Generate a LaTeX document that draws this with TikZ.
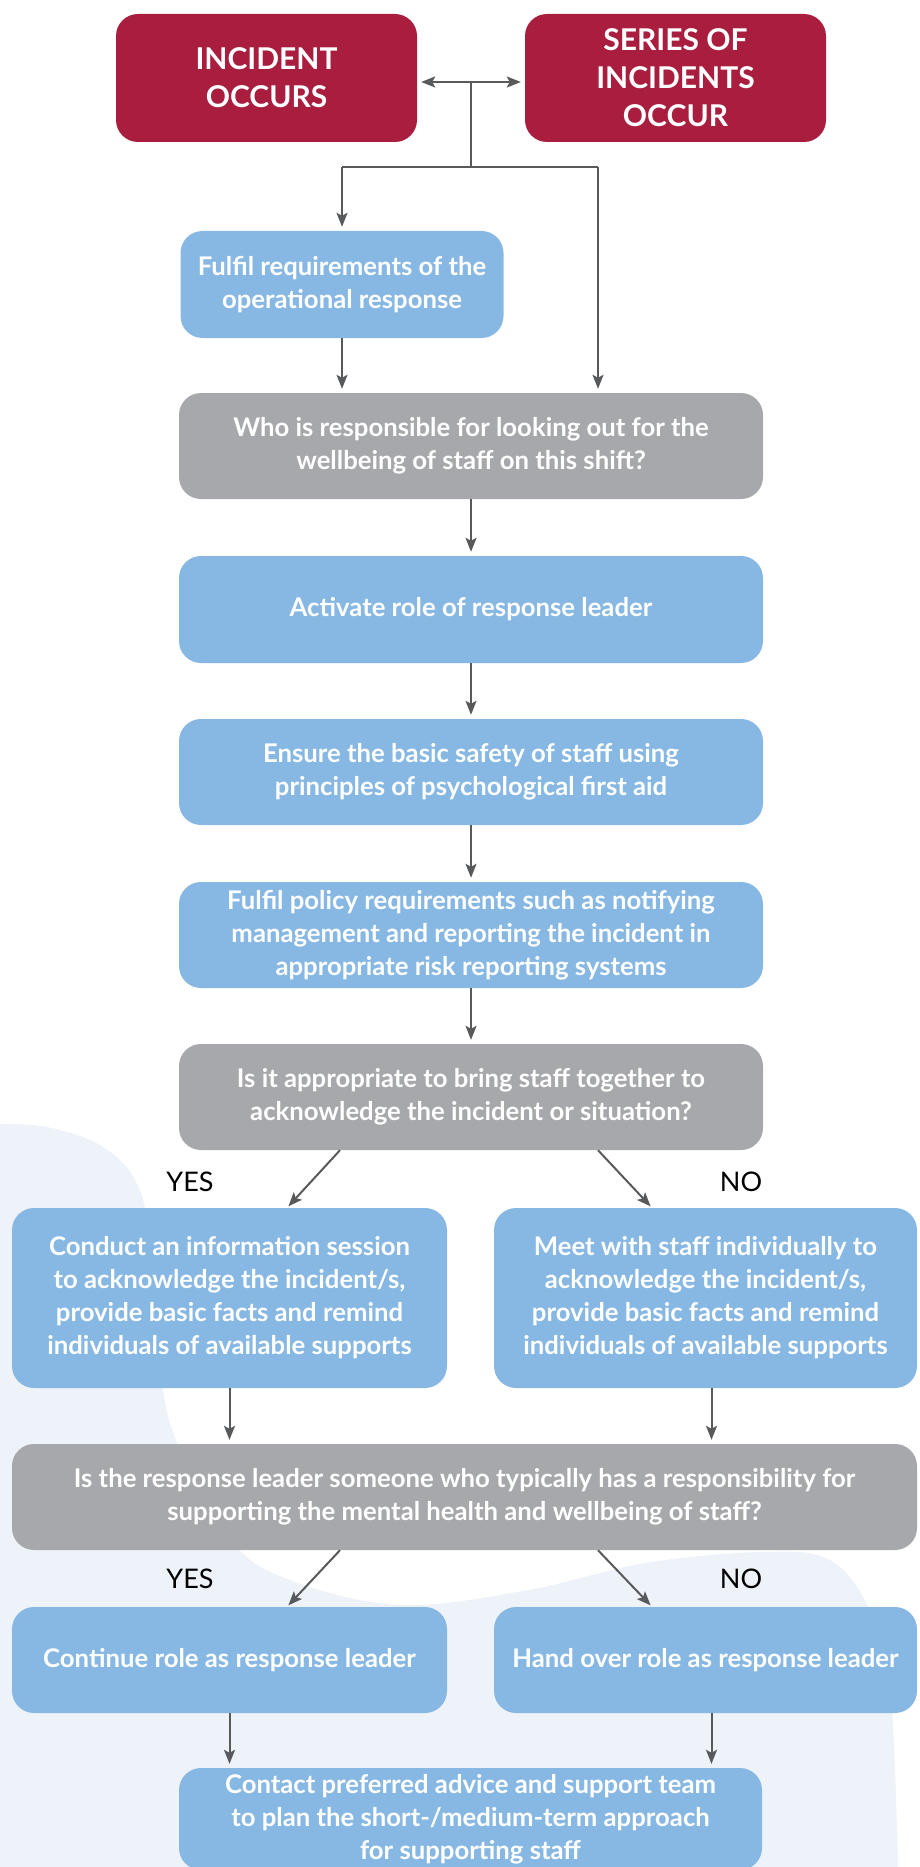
\documentclass[tikz,border=0pt]{standalone}
\usepackage{fontspec}
\setmainfont{Lato}
\usetikzlibrary{arrows.meta}
\definecolor{cred}{HTML}{A91D3F}
\definecolor{cblue}{HTML}{87B8E3}
\definecolor{cgrey}{HTML}{A7A8AB}
\definecolor{carrow}{HTML}{58595B}
\definecolor{cbg}{HTML}{EEF3FA}
\tikzset{
  box/.style={rounded corners=22pt, minimum height=106pt, text=white, align=center,
    font=\bfseries\fontsize{25.7}{33}\selectfont, inner sep=0pt},
  bluebox/.style={box, fill=cblue},
  greybox/.style={box, fill=cgrey},
  redbox/.style={box, fill=cred, minimum width=301pt, minimum height=128pt,
    font=\bfseries\fontsize{30}{38}\selectfont},
  arr/.style={draw=carrow, line width=2pt, -{Stealth[length=14pt,width=11pt,inset=3pt]}},
  dblarr/.style={draw=carrow, line width=2pt, {Stealth[length=14pt,width=11pt,inset=3pt]}-{Stealth[length=14pt,width=11pt,inset=3pt]}},
  ln/.style={draw=carrow, line width=2pt},
  lab/.style={text=black, font=\fontsize{27}{32}\selectfont, inner sep=0pt}
}
\begin{document}
\begin{tikzpicture}[x=1pt,y=-1pt]
\useasboundingbox (0,0) rectangle (919,1867);
\clip (0,0) rectangle (919,1867);
% background blob
\fill[cbg] plot[smooth, tension=0.6] coordinates {(0,1124) (47,1127) (100,1145) (135,1180) (150,1240) (163,1390) (185,1460) (233,1543) (290,1580) (400,1605) (528,1590) (645,1563) (762,1552) (830,1560) (870,1610) (890,1680) (898,1867)} -- (0,1867) -- cycle;

% nodes
\node[redbox] (incident) at (266.5,78) {INCIDENT\\OCCURS};
\node[redbox] (series) at (675.5,78) {SERIES OF\\INCIDENTS\\OCCUR};
\node[bluebox, minimum width=323pt, minimum height=107pt] (fulfil) at (342,284.5) {Fulfil requirements of the\\operational response};
\node[greybox, minimum width=584pt] (who) at (471,446) {Who is responsible for looking out for the\\wellbeing of staff on this shift?};
\node[bluebox, minimum width=584pt, minimum height=107pt] (activate) at (471,609.5) {Activate role of response leader};
\node[bluebox, minimum width=584pt] (ensure) at (471,772) {Ensure the basic safety of staff using\\principles of psychological first aid};
\node[bluebox, minimum width=584pt] (policy) at (471,935) {Fulfil policy requirements such as notifying\\management and reporting the incident in\\appropriate risk reporting systems};
\node[greybox, minimum width=584pt] (approp) at (471,1097) {Is it appropriate to bring staff together to\\acknowledge the incident or situation?};
\node[bluebox, minimum width=435pt, minimum height=180pt] (conduct) at (229.5,1298) {Conduct an information session\\to acknowledge the incident/s,\\provide basic facts and remind\\individuals of available supports};
\node[bluebox, minimum width=423pt, minimum height=180pt] (meet) at (705.5,1298) {Meet with staff individually to\\acknowledge the incident/s,\\provide basic facts and remind\\individuals of available supports};
\node[greybox, minimum width=905pt] (leader) at (464.5,1497) {Is the response leader someone who typically has a responsibility for\\supporting the mental health and wellbeing of staff?};
\node[bluebox, minimum width=435pt] (continue) at (229.5,1660) {Continue role as response leader};
\node[bluebox, minimum width=423pt] (handover) at (705.5,1660) {Hand over role as response leader};
\node[bluebox, minimum width=583pt, minimum height=102pt] (contact) at (470.5,1819) {Contact preferred advice and support team\\to plan the short-/medium-term approach\\for supporting staff};

\node[lab] (yes1) at (190,1182) {YES};
\node[lab] (no1) at (741,1182) {NO};
\node[lab] (yes2) at (190,1579) {YES};
\node[lab] (no2) at (741,1579) {NO};

% connectors
\coordinate (j1) at (471,82);
\coordinate (j2) at (471,167);
\coordinate (jl) at (342,167);
\coordinate (jr) at (598,167);
\draw[dblarr, shorten <=4pt, shorten >=4pt] ([yshift=-4pt]incident.east) -- ([yshift=-4pt]series.west);
\draw[ln] (j1) -- (j2);
\draw[ln] (jl) -- (jr);
\draw[arr, shorten >=4pt] (jl) -- (jl |- fulfil.north);
\draw[arr, shorten >=4pt] (jr) -- (jr |- who.north);
\draw[arr, shorten >=4pt] (fulfil.south) -- (fulfil.south |- who.north);
\draw[arr, shorten >=4pt] (who.south) -- (activate.north);
\draw[arr, shorten >=4pt] (activate.south) -- (ensure.north);
\draw[arr, shorten >=4pt] (ensure.south) -- (policy.north);
\draw[arr, shorten >=4pt] (policy.south) -- (approp.north);
\draw[arr, shorten >=2pt] ([xshift=-131pt]approp.south) -- ([xshift=57.5pt]conduct.north);
\draw[arr, shorten >=2pt] ([xshift=127pt]approp.south) -- ([xshift=-53.5pt]meet.north);
\draw[arr, shorten >=4pt] (conduct.south) -- (conduct.south |- leader.north);
\draw[arr, shorten >=4pt] ([xshift=6pt]meet.south) -- ([xshift=6pt]meet.south |- leader.north);
\draw[arr, shorten >=2pt] ([xshift=-124.5pt]leader.south) -- ([xshift=57.5pt]continue.north);
\draw[arr, shorten >=2pt] ([xshift=133.5pt]leader.south) -- ([xshift=-53.5pt]handover.north);
\draw[arr, shorten >=4pt] (continue.south) -- (continue.south |- contact.north);
\draw[arr, shorten >=4pt] ([xshift=6pt]handover.south) -- ([xshift=6pt]handover.south |- contact.north);
\end{tikzpicture}
\end{document}
